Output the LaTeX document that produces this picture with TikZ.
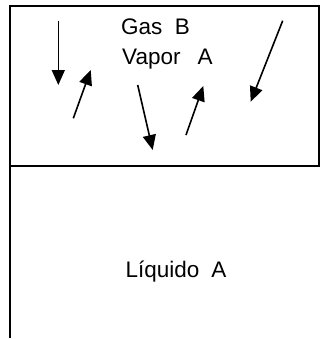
\documentclass[tikz,border=0pt]{standalone}
\usepackage{fontspec}
\setmainfont{Liberation Sans}
\usetikzlibrary{arrows.meta}
\begin{document}
\begin{tikzpicture}[x=1bp,y=-1bp,
  frame/.style={line width=2bp,line cap=rect},
  motion/.style={line width=1.6bp,-{Triangle[length=15bp,width=13bp]}},
  lbl/.style={anchor=base west,inner sep=0pt,font=\fontsize{22.5bp}{26bp}\selectfont}]
\useasboundingbox (0,0) rectangle (321,339);
% frame
\coordinate (tl) at (10,5.5);
\coordinate (tr) at (319,5.5);
\coordinate (ml) at (10,165.5);
\coordinate (mr) at (319,165.5);
\coordinate (bl) at (10,336.5);
\draw[frame] (bl) -- (tl) -- (tr) -- (mr);
\draw[frame] (ml) -- (mr);
% labels
\node[lbl] (gas) at (121,34) {Gas\hspace{12.5bp}B};
\node[lbl] (vapor) at (122,64.3) {Vapor\hspace{17bp}A};
\node[lbl] (liq) at (125.5,277.7) {Líquido\hspace{12bp}A};
% molecule motions
\coordinate (a1s) at (58.3,20.7);  \coordinate (a1e) at (58.3,85);
\coordinate (a2s) at (73.3,118.3); \coordinate (a2e) at (90.7,70);
\coordinate (a3s) at (137.7,85);   \coordinate (a3e) at (152.7,150);
\coordinate (a4s) at (186,135);    \coordinate (a4e) at (203.3,86);
\coordinate (a5s) at (282.7,20.7); \coordinate (a5e) at (250.7,101.7);
\draw[motion] (a1s) -- (a1e);
\draw[motion] (a2s) -- (a2e);
\draw[motion] (a3s) -- (a3e);
\draw[motion] (a4s) -- (a4e);
\draw[motion] (a5s) -- (a5e);
\end{tikzpicture}
\end{document}
